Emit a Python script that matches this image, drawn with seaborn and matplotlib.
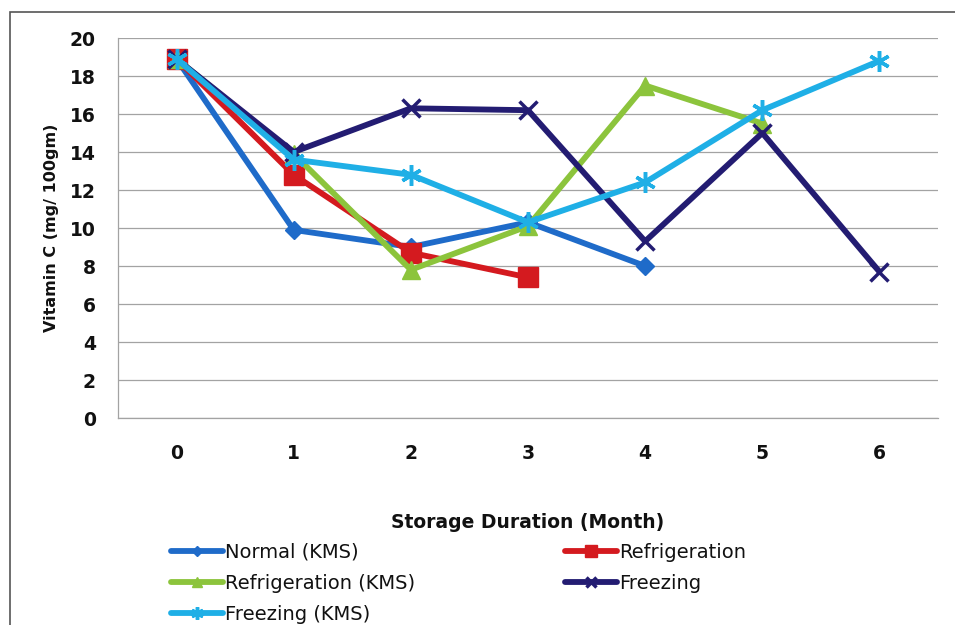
import matplotlib
matplotlib.use("Agg")
import matplotlib.pyplot as plt
import seaborn as sns
import pandas as pd
from matplotlib.patches import Rectangle

months = [0, 1, 2, 3, 4, 5, 6]
normal_kms = [18.9, 9.9, 9.0, 10.3, 8.0]
refrigeration = [18.9, 12.8, 8.7, 7.4]
refrigeration_kms = [18.9, 13.9, 7.8, 10.1, 17.5, 15.5]
freezing = [18.9, 14.0, 16.3, 16.2, 9.3, 15.0, 7.7]
freezing_kms = [18.9, 13.6, 12.8, 10.3, 12.4, 16.2, 18.8]

y_ticks = [0, 2, 4, 6, 8, 10, 12, 14, 16, 18, 20]

series = [
    ("Normal (KMS)", normal_kms, "#1F6BC9", "D", 9),
    ("Refrigeration", refrigeration, "#D41A1F", "s", 14),
    ("Refrigeration (KMS)", refrigeration_kms, "#8CC43C", "^", 13),
    ("Freezing", freezing, "#231C72", "x", 13),
    ("Freezing (KMS)", freezing_kms, "#1FAFE6", (6, 2, 0), 15),
]

sns.set_style("white")
plt.rcParams["font.family"] = ["DejaVu Sans"]
plt.rcParams["text.color"] = "#111111"
plt.rcParams["axes.labelcolor"] = "#111111"

fig = plt.figure(figsize=(9.55, 6.25), dpi=100)
ax = fig.add_axes([118 / 955, 1 - 418 / 625, (938 - 118) / 955, (418 - 38) / 625])

# outer chart frame
fig.patches.append(Rectangle((10 / 955, -0.1), 1.1, 1 - 12 / 625 + 0.1,
                             transform=fig.transFigure, fill=False,
                             edgecolor="#555555", linewidth=1.2))

handles = {}
for name, vals, color, marker, ms in series:
    df = pd.DataFrame({"month": months[:len(vals)], "value": vals})
    sns.lineplot(data=df, x="month", y="value", ax=ax, color=color,
                 linewidth=4.2, marker=marker, markersize=ms,
                 markeredgecolor=color,
                 markeredgewidth=2.5 if marker in ("x", (6, 2, 0)) else 1,
                 label=name, legend=False)
    handles[name] = ax.lines[-1]

ax.set_xlim(-0.5, 6.5)
ax.set_ylim(0, 20)
ax.set_yticks(y_ticks)
ax.set_xticks(months)
ax.set_axisbelow(True)
ax.yaxis.grid(True, color="#a3a3a3", linewidth=0.9)
ax.xaxis.grid(False)
for side in ("top", "right"):
    ax.spines[side].set_visible(False)
for side in ("left", "bottom"):
    ax.spines[side].set_visible(True)
    ax.spines[side].set_color("#a3a3a3")
    ax.spines[side].set_linewidth(0.9)
ax.tick_params(axis="both", length=0, labelsize=13.5, colors="#111111")
ax.tick_params(axis="y", pad=16)
ax.tick_params(axis="x", pad=19)
for lbl in ax.get_xticklabels() + ax.get_yticklabels():
    lbl.set_fontweight("bold")

ax.set_xlabel("Storage Duration (Month)", fontsize=13.5, fontweight="bold", labelpad=36)
ax.set_ylabel("Vitamin C (mg/ 100gm)", fontsize=11.5, fontweight="bold", labelpad=8)

order = ["Normal (KMS)", "Refrigeration (KMS)", "Freezing (KMS)", "Refrigeration", "Freezing"]
leg = fig.legend([handles[n] for n in order], order, ncol=2, loc="upper left",
                 bbox_to_anchor=(153 / 955, 1 - 525 / 625), frameon=False,
                 fontsize=14, handlelength=2.7, handletextpad=0.1,
                 columnspacing=7.7, labelspacing=0.62, markerscale=0.6)

fig.savefig("out.png", dpi=100, facecolor="white")
